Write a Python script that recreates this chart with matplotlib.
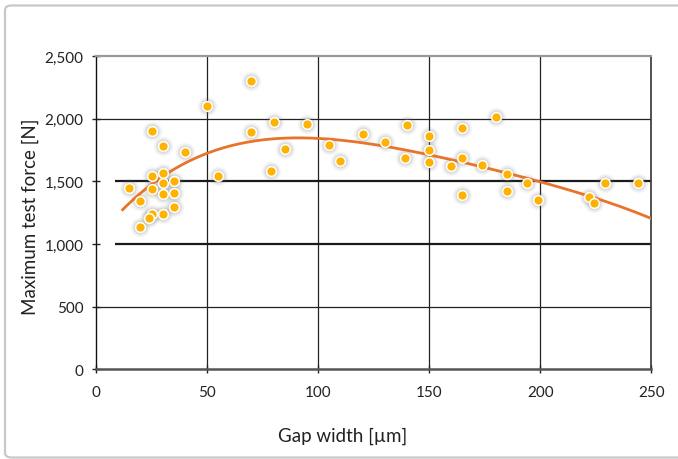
import numpy as np
import matplotlib
matplotlib.use("Agg")
import matplotlib.pyplot as plt
from matplotlib.patches import FancyBboxPatch

plt.rcParams['font.family'] = ['Lato', 'DejaVu Sans']

# gap width [um] and maximum test force [N]
gap = [70, 50, 80, 25, 70, 85, 30, 40, 79, 55, 25, 30, 15, 25, 30, 35, 30, 35,
       20, 35, 25, 24, 30, 20,
       95, 140, 165, 120, 150, 130, 105, 150, 110, 139, 150, 165, 160, 165,
       180, 174, 185, 194, 185, 199, 229, 244, 222, 224]
force = [2300, 2100, 1975, 1900, 1895, 1760, 1785, 1735, 1585, 1540, 1540, 1570,
         1450, 1440, 1485, 1500, 1400, 1405, 1345, 1295, 1240, 1205, 1240, 1140,
         1955, 1950, 1925, 1880, 1860, 1815, 1790, 1750, 1660, 1690, 1655, 1683,
         1625, 1390,
         2015, 1630, 1560, 1490, 1420, 1355, 1490, 1490, 1375, 1325]

# trend line (polynomial trendline)
trend_x = [12, 25, 50, 75, 95, 120, 150, 172, 200, 250]
trend_y = [1259, 1500, 1728, 1815, 1840, 1815, 1722, 1624, 1489, 1206]

x_ticks = [0, 50, 100, 150, 200, 250]
y_ticks = [0, 500, 1000, 1500, 2000, 2500]
y_tick_labels = ['0', '500', '1,000', '1,500', '2,000', '2,500']

fig = plt.figure(figsize=(6.78, 4.60), dpi=100)
ax = fig.add_axes([0.1416, 0.1946, 0.8190, 0.6814])

# outer frame
frame = FancyBboxPatch((5 / 678, 1.5 / 460), 1.2, (452 / 460),
                       boxstyle="round,pad=0,rounding_size=0.01",
                       transform=fig.transFigure, fc='none', ec='#c8c8c8', lw=1.6,
                       clip_on=False)
fig.patches.append(frame)

# grid
for v in [50, 100, 150, 200]:
    ax.axvline(v, color='#222222', lw=0.9, zorder=1)
for v in [500, 2000]:
    ax.axhline(v, color='#222222', lw=0.9, zorder=1)
ax.hlines([1000, 1500], 8.5, 250, color='#1a1a1a', lw=1.6, zorder=1)

# glow behind markers
for s, a in [(14, 0.06), (12, 0.08), (10, 0.13)]:
    ax.plot(gap, force, 'o', ms=s, mfc='#707070', mec='none', alpha=a, zorder=2)
ax.plot(gap, force, 'o', ms=7, mfc='#FFB300', mec='white', mew=1.1, zorder=4)

coef = np.polyfit(trend_x, trend_y, 4)
xs = np.linspace(trend_x[0], trend_x[-1], 200)
ax.plot(xs, np.polyval(coef, xs), color='#E8732A', lw=2, zorder=3)

ax.set_xlim(0, 250)
ax.set_ylim(0, 2500)
ax.set_xticks(x_ticks)
ax.set_yticks(y_ticks)
ax.set_yticklabels(y_tick_labels)
ax.tick_params(axis='both', direction='inout', length=6, width=1, colors='#222222',
               labelsize=11, labelcolor='#222222')
ax.tick_params(axis='x', pad=8)
ax.tick_params(axis='y', pad=6)

ax.spines['top'].set_color('#999999')
ax.spines['top'].set_linewidth(1.6)
ax.spines['right'].set_color('#333333')
ax.spines['right'].set_linewidth(1.2)
ax.spines['bottom'].set_color('#555555')
ax.spines['bottom'].set_linewidth(1.8)
ax.spines['left'].set_color('#111111')
ax.spines['left'].set_linewidth(1.0)

ax.set_xlabel('Gap width [µm]', fontsize=13.5, color='#222222')
ax.set_ylabel('Maximum test force [N]', fontsize=13.5, color='#222222')
ax.xaxis.set_label_coords(0.445, -0.183)
ax.yaxis.set_label_coords(-0.103, 0.49)

fig.savefig('out.png', dpi=100)
